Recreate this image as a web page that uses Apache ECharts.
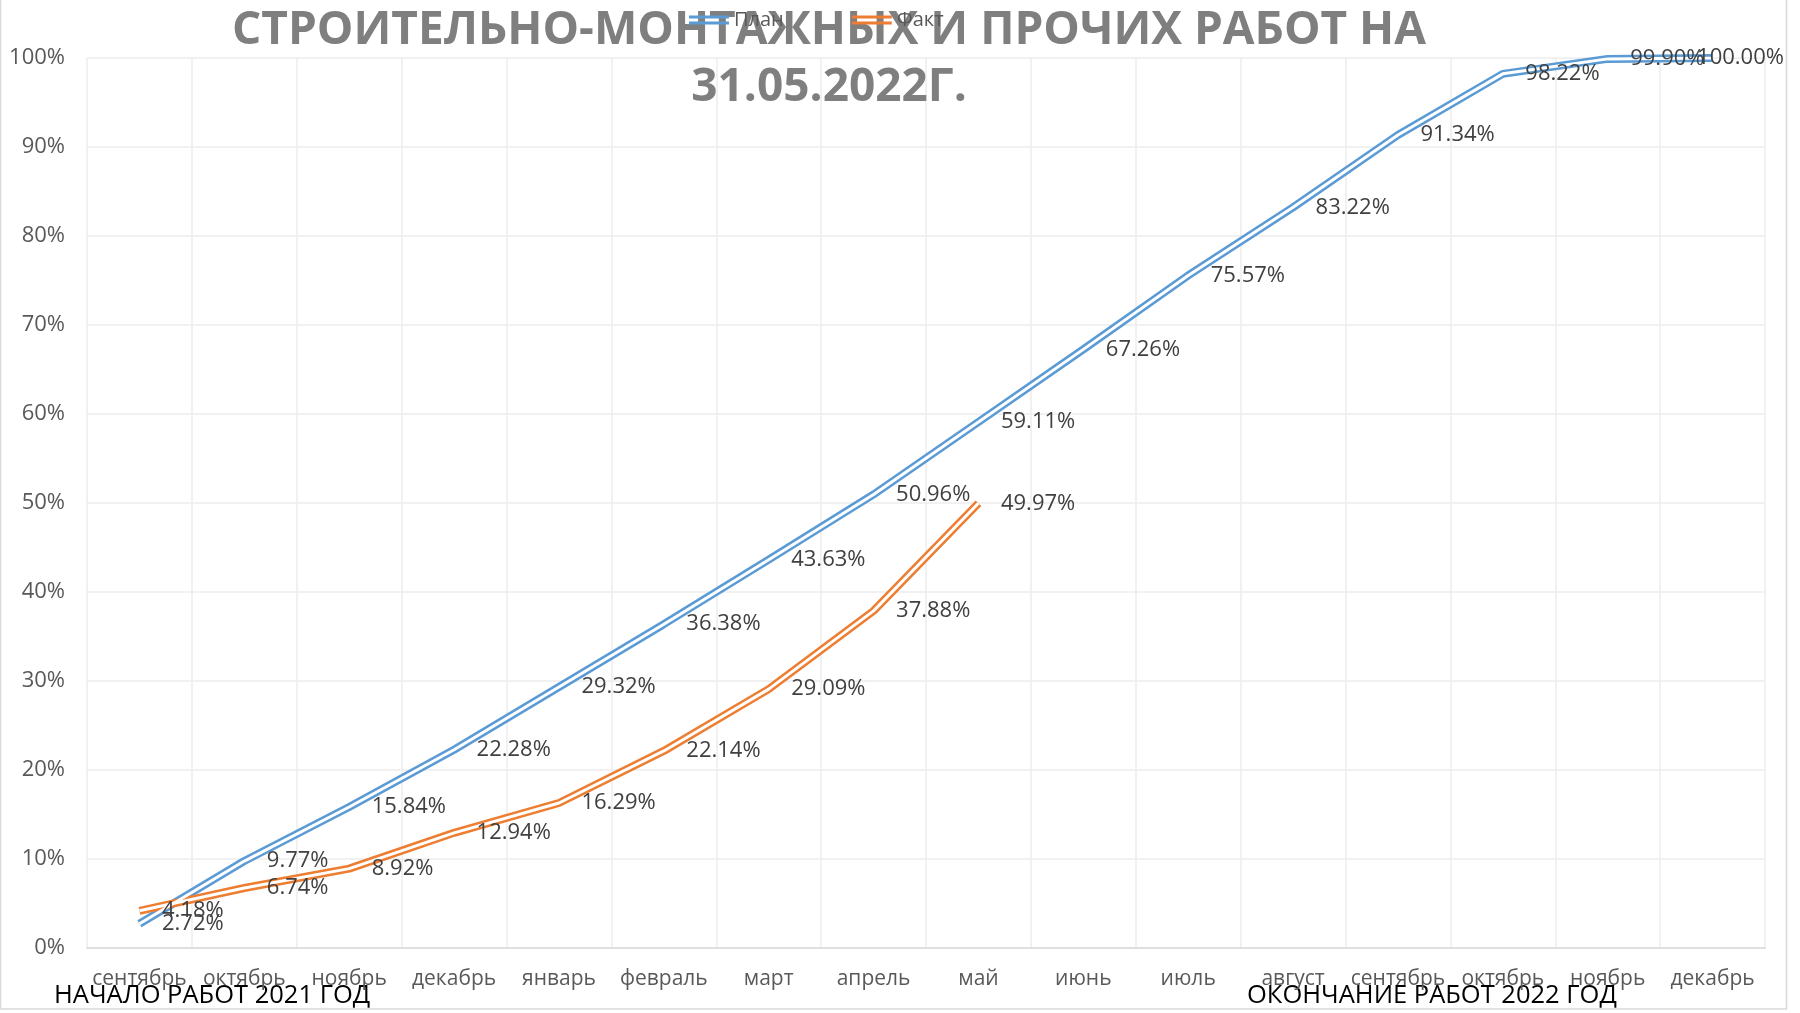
<!DOCTYPE html>
<html>
<head>
<meta charset="utf-8">
<script src="https://cdn.jsdelivr.net/npm/echarts@6/dist/echarts.min.js"></script>
<style>html,body{margin:0;padding:0;background:#fff}#c{width:1800px;height:1013px}</style>
</head>
<body>
<div id="c"></div>
<script>
const categories = ['сентябрь','октябрь','ноябрь','декабрь','январь','февраль','март','апрель','май','июнь','июль','август','сентябрь','октябрь','ноябрь','декабрь'];
const planValues = [2.72, 9.77, 15.84, 22.28, 29.32, 36.38, 43.63, 50.96, 59.11, 67.26, 75.57, 83.22, 91.34, 98.22, 99.90, 100.00];
const factValues = [4.18, 6.74, 8.92, 12.94, 16.29, 22.14, 29.09, 37.88, 49.97, null, null, null, null, null, null, null];
const seriesNames = ['План', 'Факт'];
const titleText = 'СТРОИТЕЛЬНО-МОНТАЖНЫХ И ПРОЧИХ РАБОТ НА\n31.05.2022Г.';
const startNote = 'НАЧАЛО РАБОТ 2021 ГОД';
const endNote = 'ОКОНЧАНИЕ РАБОТ 2022 ГОД';

const BLUE = '#5b9bd5', ORANGE = '#ed7d31';
const FONT = '"Open Sans", sans-serif';
const doubleIcon = 'path://M0,0H40V3H0Z M0,6H40V9H0Z';

const labelStyle = {
  show: true, position: 'right', distance: 22,
  color: '#404040', fontSize: 22, fontFamily: FONT,
  formatter: p => (p.value == null ? '' : p.value.toFixed(2) + '%')
};

function labelledData(vals, lastShift) {
  return vals.map((v, i) => {
    if (lastShift && i === vals.length - 1) {
      return { value: v, label: { offset: [lastShift, 0] } };
    }
    return v;
  });
}

function outer(name, color, vals) {
  return {
    name, type: 'line', data: vals, z: 2,
    showSymbol: false, symbol: 'none',
    lineStyle: { color, width: 8 }, itemStyle: { color },
    connectNulls: false, silent: true
  };
}
function inner(name, vals, lastShift) {
  return {
    name: name + '_inner', type: 'line', data: labelledData(vals, lastShift), z: 3,
    symbol: 'circle', symbolSize: 1, showSymbol: true,
    itemStyle: { color: 'rgba(255,255,255,0)' },
    lineStyle: { color: '#ffffff', width: 3 },
    label: labelStyle, silent: true
  };
}

const chart = echarts.init(document.getElementById('c'), null, { renderer: 'canvas' });
chart.setOption({
  animation: false,
  backgroundColor: '#ffffff',
  title: {
    text: titleText, left: 824, textAlign: 'center', top: -3, z: 5,
    textStyle: { color: '#7f7f7f', fontSize: 46, fontWeight: 'bold', fontFamily: FONT, lineHeight: 57 }
  },
  legend: {
    data: [
      { name: seriesNames[0], icon: doubleIcon, itemStyle: { color: BLUE } },
      { name: seriesNames[1], icon: doubleIcon, itemStyle: { color: ORANGE } }
    ],
    left: 684, top: 5, itemWidth: 52, itemHeight: 9, itemGap: 68, z: 10,
    textStyle: { color: '#595959', fontSize: 20, fontFamily: FONT, padding: [0, 0, 0, -6] }
  },
  grid: { left: 87, right: 35, top: 58, bottom: 65, containLabel: false },
  xAxis: {
    type: 'category', data: categories, boundaryGap: true,
    axisLine: { show: true, lineStyle: { color: '#d9d9d9', width: 1.5 } },
    axisTick: { show: false },
    axisLabel: { color: '#595959', fontSize: 21, fontFamily: FONT, margin: 21, interval: 0 },
    splitLine: { show: true, lineStyle: { color: '#ececec', width: 1.5 } }
  },
  yAxis: {
    type: 'value', min: 0, max: 100, interval: 10,
    axisLine: { show: false }, axisTick: { show: false },
    axisLabel: { color: '#595959', fontSize: 22, fontFamily: FONT, margin: 22, formatter: '{value}%' },
    splitLine: { show: true, lineStyle: { color: '#ececec', width: 1.5 } }
  },
  series: [
    outer(seriesNames[0], BLUE, planValues),
    inner(seriesNames[0], planValues, -38),
    outer(seriesNames[1], ORANGE, factValues),
    inner(seriesNames[1], factValues)
  ],
  graphic: [
    { type: 'rect', shape: { x: 0.5, y: -5, width: 1786, height: 1014 }, style: { fill: 'none', stroke: '#d9d9d9', lineWidth: 1.5 }, silent: true, z: -1 },
    { type: 'text', left: 54, top: 983, style: { text: startNote, fill: '#000000', fontSize: 25.5, fontFamily: FONT } },
    { type: 'text', left: 1247, top: 983, style: { text: endNote, fill: '#000000', fontSize: 25.5, fontFamily: FONT } }
  ]
});
</script>
</body>
</html>
